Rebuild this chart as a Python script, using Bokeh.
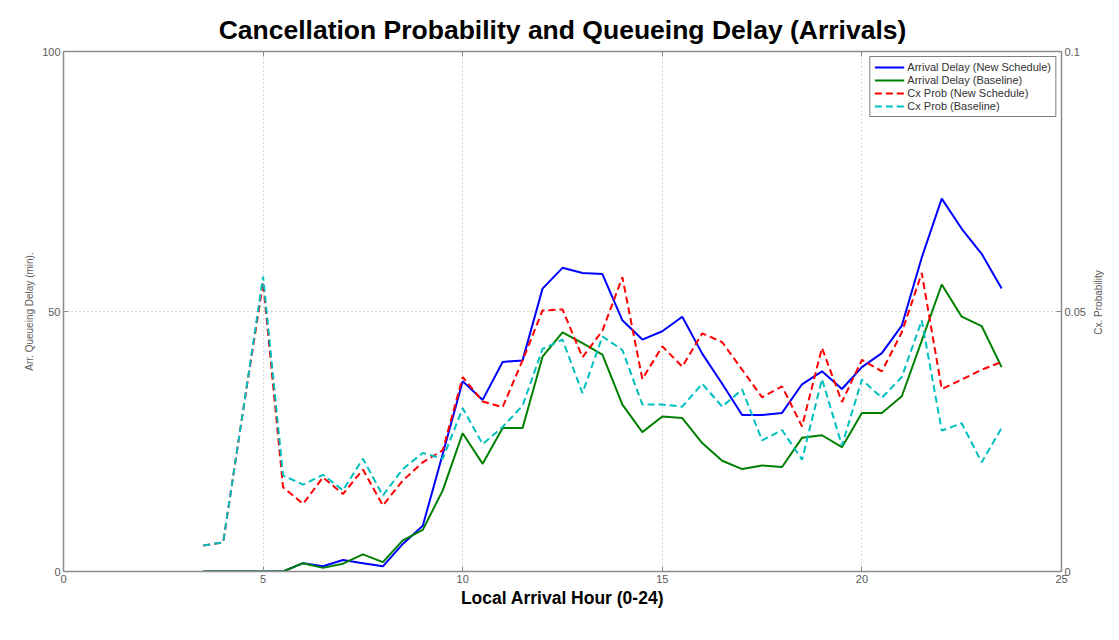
import math
from bokeh.plotting import figure
from bokeh.layouts import row
from bokeh.models import (Range1d, LinearAxis, FixedTicker, Legend, LegendItem, Title, Label)
from bokeh.embed import file_html
from bokeh.resources import INLINE

hours = [3.5, 4, 4.5, 5, 5.5, 6, 6.5, 7, 7.5, 8, 8.5, 9, 9.5, 10, 10.5, 11, 11.5, 12,
         12.5, 13, 13.5, 14, 14.5, 15, 15.5, 16, 16.5, 17, 17.5, 18, 18.5, 19, 19.5,
         20, 20.5, 21, 21.5, 22, 22.5, 23, 23.5]

delay_new = [0, 0, 0, 0, 0, 1.6, 1.0, 2.2, 1.6, 1.0, 5.3, 8.8, 22.6, 36.6, 33.0, 40.3, 40.6, 54.4,
             58.4, 57.4, 57.2, 48.3, 44.6, 46.2, 49.0, 41.9, 36.1, 30.1, 30.1, 30.5, 36.0, 38.5, 35.1,
             39.3, 42.0, 47.3, 60.4, 71.7, 65.9, 61.1, 54.4]

delay_base = [0, 0, 0, 0, 0, 1.6, 0.7, 1.5, 3.3, 1.8, 6.0, 8.0, 15.6, 26.6, 20.7, 27.6, 27.6, 41.3,
              46.0, 43.9, 41.7, 32.1, 26.8, 29.8, 29.5, 24.7, 21.3, 19.7, 20.4, 20.1, 25.7, 26.2, 23.9,
              30.5, 30.5, 33.7, 44.4, 55.2, 49.0, 47.2, 39.3]

cx_new = [0.0050, 0.0056, 0.0310, 0.0556, 0.0162, 0.0130, 0.0181, 0.0149, 0.0196, 0.0127, 0.0175,
          0.0210, 0.0233, 0.0374, 0.0327, 0.0316, 0.0406, 0.0502, 0.0504, 0.0412, 0.0463, 0.0566,
          0.0370, 0.0433, 0.0394, 0.0458, 0.0441, 0.0388, 0.0335, 0.0356, 0.0279, 0.0430, 0.0326,
          0.0407, 0.0385, 0.0460, 0.0574, 0.0351, 0.0369, 0.0388, 0.0403]

cx_base = [0.0050, 0.0056, 0.0310, 0.0567, 0.0185, 0.0167, 0.0186, 0.0156, 0.0217, 0.0146, 0.0197,
           0.0228, 0.0217, 0.0314, 0.0245, 0.0278, 0.0319, 0.0428, 0.0446, 0.0343, 0.0452, 0.0426,
           0.0321, 0.0321, 0.0317, 0.0361, 0.0317, 0.0350, 0.0252, 0.0272, 0.0215, 0.0370, 0.0242,
           0.0369, 0.0334, 0.0374, 0.0483, 0.0271, 0.0285, 0.0210, 0.0276]

x_ticks = [0, 5, 10, 15, 20, 25]
y_ticks = [0, 50, 100]
p_ticks = [0, 0.05, 0.1]

FONT = "Liberation Sans"
AXC = "#8c8c8c"
TXT = "#5a5a5a"
H = 630

p = figure(width=1089, height=H, output_backend="svg", toolbar_location=None,
           x_range=Range1d(0, 25), y_range=Range1d(0, 100),
           min_border_left=63, min_border_right=28, min_border_top=51, min_border_bottom=59,
           background_fill_color="white", border_fill_color="white")
p.extra_y_ranges = {"prob": Range1d(0, 0.1)}

p.title = Title(text="Cancellation Probability and Queueing Delay (Arrivals)",
                align="center", text_font=FONT, text_font_size="26.5px",
                text_font_style="bold", text_color="black", offset=0, standoff=13)

def style_axis(ax, labels=True):
    ax.axis_line_color = AXC
    ax.axis_line_width = 1.5
    ax.major_tick_in = 5
    ax.major_tick_out = 0
    ax.major_tick_line_color = AXC
    ax.minor_tick_line_color = None
    ax.major_label_text_font = FONT
    ax.major_label_text_font_size = "11px"
    ax.major_label_text_color = TXT
    ax.major_label_standoff = 3
    if not labels:
        ax.major_label_text_alpha = 0

xa = p.xaxis[0]
xa.ticker = FixedTicker(ticks=x_ticks)
style_axis(xa)
xa.axis_label = "Local Arrival Hour (0-24)"
xa.axis_label_text_font = FONT
xa.axis_label_text_font_size = "17.5px"
xa.axis_label_text_font_style = "bold"
xa.axis_label_text_color = "black"
xa.axis_label_standoff = 2

ya = p.yaxis[0]
ya.ticker = FixedTicker(ticks=y_ticks)
style_axis(ya)
ya.axis_label = "Arr. Queueing Delay (min)."
ya.axis_label_text_font = FONT
ya.axis_label_text_font_size = "10px"
ya.axis_label_text_font_style = "normal"
ya.axis_label_text_color = TXT
ya.axis_label_standoff = 4

ra = LinearAxis(y_range_name="prob", ticker=FixedTicker(ticks=p_ticks))
style_axis(ra)
ra.major_label_overrides = {0: "0", 0.05: "0.05", 0.1: "0.1"}
p.add_layout(ra, "right")

ta = LinearAxis(ticker=FixedTicker(ticks=x_ticks))
style_axis(ta, labels=False)
ta.major_label_text_font_size = "1px"
p.add_layout(ta, "above")

p.xgrid.ticker = FixedTicker(ticks=x_ticks)
p.ygrid.ticker = FixedTicker(ticks=y_ticks)
for g in (p.xgrid[0], p.ygrid[0]):
    g.grid_line_color = "#b0b0b0"
    g.grid_line_dash = "1 3"
    g.grid_line_width = 1
p.outline_line_color = None

r1 = p.line(hours, delay_new, line_color="#0000ff", line_width=2)
r2 = p.line(hours, delay_base, line_color="#008000", line_width=2)
r3 = p.line(hours, cx_new, y_range_name="prob", line_color="#ff0000", line_width=2,
            line_dash="7 4")
r4 = p.line(hours, cx_base, y_range_name="prob", line_color="#00bfbf", line_width=2,
            line_dash="7 4")

legend = Legend(items=[
    LegendItem(label="Arrival Delay (New Schedule)", renderers=[r1]),
    LegendItem(label="Arrival Delay (Baseline)", renderers=[r2]),
    LegendItem(label="Cx Prob (New Schedule)", renderers=[r3]),
    LegendItem(label="Cx Prob (Baseline)", renderers=[r4]),
], location="top_right")
legend.label_text_font = FONT
legend.label_text_font_size = "11px"
legend.label_text_color = "#333333"
legend.label_height = 12
legend.glyph_height = 12
legend.glyph_width = 30
legend.spacing = 1
legend.padding = 4
legend.margin = 5
legend.border_line_color = "black"
legend.border_line_width = 1
legend.label_standoff = 3
p.add_layout(legend)

# narrow strip on the right holding the secondary axis title (reads bottom to top)
side = figure(width=22, height=H, output_backend="svg", toolbar_location=None,
              x_range=Range1d(0, 22), y_range=Range1d(H, 0),
              min_border=0, min_border_left=0, min_border_right=0,
              min_border_top=0, min_border_bottom=0,
              background_fill_color="white", border_fill_color="white")
side.axis.visible = False
side.grid.visible = False
side.outline_line_color = None
side.add_layout(Label(x=9, y=304, text="Cx. Probability", angle=math.pi / 2,
                      text_align="center", text_baseline="middle",
                      text_font=FONT, text_font_size="10px", text_color=TXT))

open("out.html", "w").write(file_html(row(p, side), INLINE))
